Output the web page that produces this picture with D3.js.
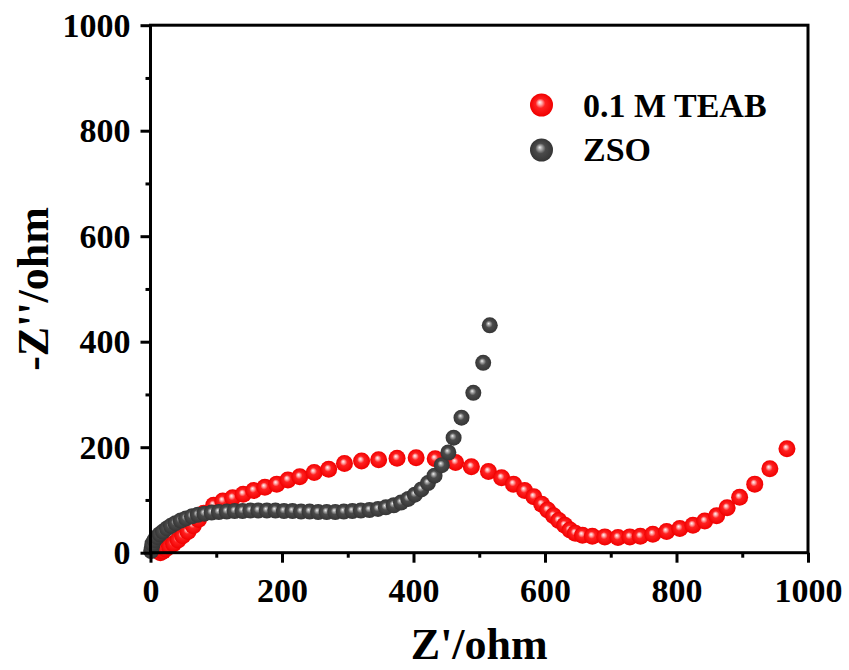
<!DOCTYPE html>
<html>
<head>
<meta charset="utf-8">
<script src="https://cdn.jsdelivr.net/npm/d3@7"></script>
<style>
body { margin: 0; background: #fff; }
svg text { font-family: "Times New Roman", "Liberation Serif", serif; font-weight: bold; fill: #000; }
</style>
</head>
<body>
<div id="chart"></div>
<script>
// Nyquist data (Z' / -Z'', ohm)
const teabX = [15, 19, 23, 29, 35, 42, 49, 57, 65, 73, 81, 96, 110, 125, 141, 157, 174, 192, 209, 227,
    249, 271, 295, 321, 347, 375, 404, 433, 464, 488, 514, 534, 552, 569, 583, 595, 604, 613, 621, 630,
    638, 646, 657, 672, 691, 711, 729, 745, 764, 785, 805, 825, 843, 861, 877, 896, 919, 942, 968];
const teabY = [0, 3, 7, 12, 17, 24, 32, 40, 51, 63, 75, 90, 98, 104, 111, 118, 124, 130, 138, 144,
    152, 158, 169, 174, 176, 179, 180, 178, 171, 163, 154, 142, 130, 118, 106, 92, 81, 70, 61, 52,
    43, 37, 33, 31, 30, 29, 30, 31, 35, 40, 46, 52, 60, 70, 85, 105, 130, 159, 197];

const zsoX = [1, 2, 3, 6, 10, 14, 19, 25, 31, 38, 46, 54, 63, 72, 82, 93, 104, 116, 128, 140,
    152, 164, 177, 190, 203, 216, 229, 242, 255, 268, 281, 294, 307, 320, 333, 346, 358, 370, 381, 392,
    402, 412, 422, 432, 443, 453, 461, 473, 491, 506, 516];
const zsoY = [3, 10, 17, 24, 30, 35, 40, 46, 51, 56, 61, 65, 69, 72, 74, 76, 77, 78, 79, 79,
    80, 80, 80, 80, 79, 79, 78, 78, 77, 77, 77, 78, 79, 80, 81, 83, 86, 90, 95, 102,
    110, 120, 132, 146, 166, 190, 218, 256, 303, 360, 431];

const majorTicks = [0, 200, 400, 600, 800, 1000];
const minorTicks = [100, 300, 500, 700, 900];
const seriesNames = ["0.1 M TEAB", "ZSO"];

const w = 849;
const h = 670;

const svg = d3.select("#chart")
    .append("svg")
    .attr("width", w)
    .attr("height", h);

const x = d3.scaleLinear().domain([0, 1000]).range([150.5, 808]);
const y = d3.scaleLinear().domain([0, 1000]).range([552.7, 25.2]);

// sphere-look markers
const defs = svg.append("defs");
function ball(id, stops) {
    const g = defs.append("radialGradient")
        .attr("id", id)
        .attr("cx", "50%").attr("cy", "50%").attr("r", "50%")
        .attr("fx", "42%").attr("fy", "38%");
    stops.forEach(function(s) {
        g.append("stop").attr("offset", s[0]).attr("stop-color", s[1]);
    });
}
ball("ballRed", [["0%", "#fff4f4"], ["18%", "#ffa8a8"], ["42%", "#ff2020"], ["100%", "#f00000"]]);
ball("ballGray", [["0%", "#f2f2f2"], ["18%", "#a8a8a8"], ["45%", "#4a4a4a"], ["100%", "#353535"]]);

// plot points
const teab = teabX.map(function(v, i) { return [v, teabY[i]]; });
const zso = zsoX.map(function(v, i) { return [v, zsoY[i]]; });

svg.append("g")
    .selectAll("circle")
    .data(teab)
    .enter()
    .append("circle")
    .attr("cx", function(d) { return x(d[0]); })
    .attr("cy", function(d) { return y(d[1]); })
    .attr("r", 8.5)
    .attr("fill", "url(#ballRed)");

svg.append("g")
    .selectAll("circle")
    .data(zso)
    .enter()
    .append("circle")
    .attr("cx", function(d) { return x(d[0]); })
    .attr("cy", function(d) { return y(d[1]); })
    .attr("r", 8)
    .attr("fill", "url(#ballGray)");

// frame
svg.append("rect")
    .attr("x", x(0))
    .attr("y", y(1000))
    .attr("width", x(1000) - x(0))
    .attr("height", y(0) - y(1000))
    .attr("fill", "none")
    .attr("stroke", "#000")
    .attr("stroke-width", 3);

function styleAxis(g) {
    g.select(".domain").remove();
    g.selectAll(".tick line").attr("stroke", "#000").attr("stroke-width", 3);
    g.selectAll(".tick text")
        .attr("font-size", 34)
        .attr("font-family", "'Times New Roman', 'Liberation Serif', serif")
        .attr("font-weight", "bold")
        .attr("fill", "#000");
}

const fmt = d3.format("d");

svg.append("g")
    .attr("transform", "translate(0," + y(0) + ")")
    .call(d3.axisBottom(x).tickValues(majorTicks).tickFormat(fmt).tickSize(10).tickSizeOuter(0).tickPadding(15))
    .call(styleAxis);

svg.append("g")
    .attr("transform", "translate(0," + y(0) + ")")
    .call(d3.axisBottom(x).tickValues(minorTicks).tickSize(5).tickSizeOuter(0).tickFormat(""))
    .call(styleAxis);

svg.append("g")
    .attr("transform", "translate(" + x(0) + ",0)")
    .call(d3.axisLeft(y).tickValues(majorTicks).tickFormat(fmt).tickSize(10).tickSizeOuter(0).tickPadding(10))
    .call(styleAxis);

svg.append("g")
    .attr("transform", "translate(" + x(0) + ",0)")
    .call(d3.axisLeft(y).tickValues(minorTicks).tickSize(5).tickSizeOuter(0).tickFormat(""))
    .call(styleAxis);

// axis titles
svg.append("text")
    .attr("x", (x(0) + x(1000)) / 2)
    .attr("y", 659)
    .attr("text-anchor", "middle")
    .attr("font-size", 44)
    .text("Z'/ohm");

svg.append("text")
    .attr("transform", "translate(48," + ((y(0) + y(1000)) / 2) + ") rotate(-90)")
    .attr("text-anchor", "middle")
    .attr("font-size", 44)
    .text("-Z''/ohm");

// legend
const legend = svg.append("g");
const fills = ["url(#ballRed)", "url(#ballGray)"];
seriesNames.forEach(function(name, i) {
    legend.append("circle")
        .attr("cx", 541.5)
        .attr("cy", 105 + i * 45)
        .attr("r", 11.5)
        .attr("fill", fills[i]);
    legend.append("text")
        .attr("x", 583)
        .attr("y", 117 + i * 44)
        .attr("font-size", 34)
        .text(name);
});
</script>
</body>
</html>
